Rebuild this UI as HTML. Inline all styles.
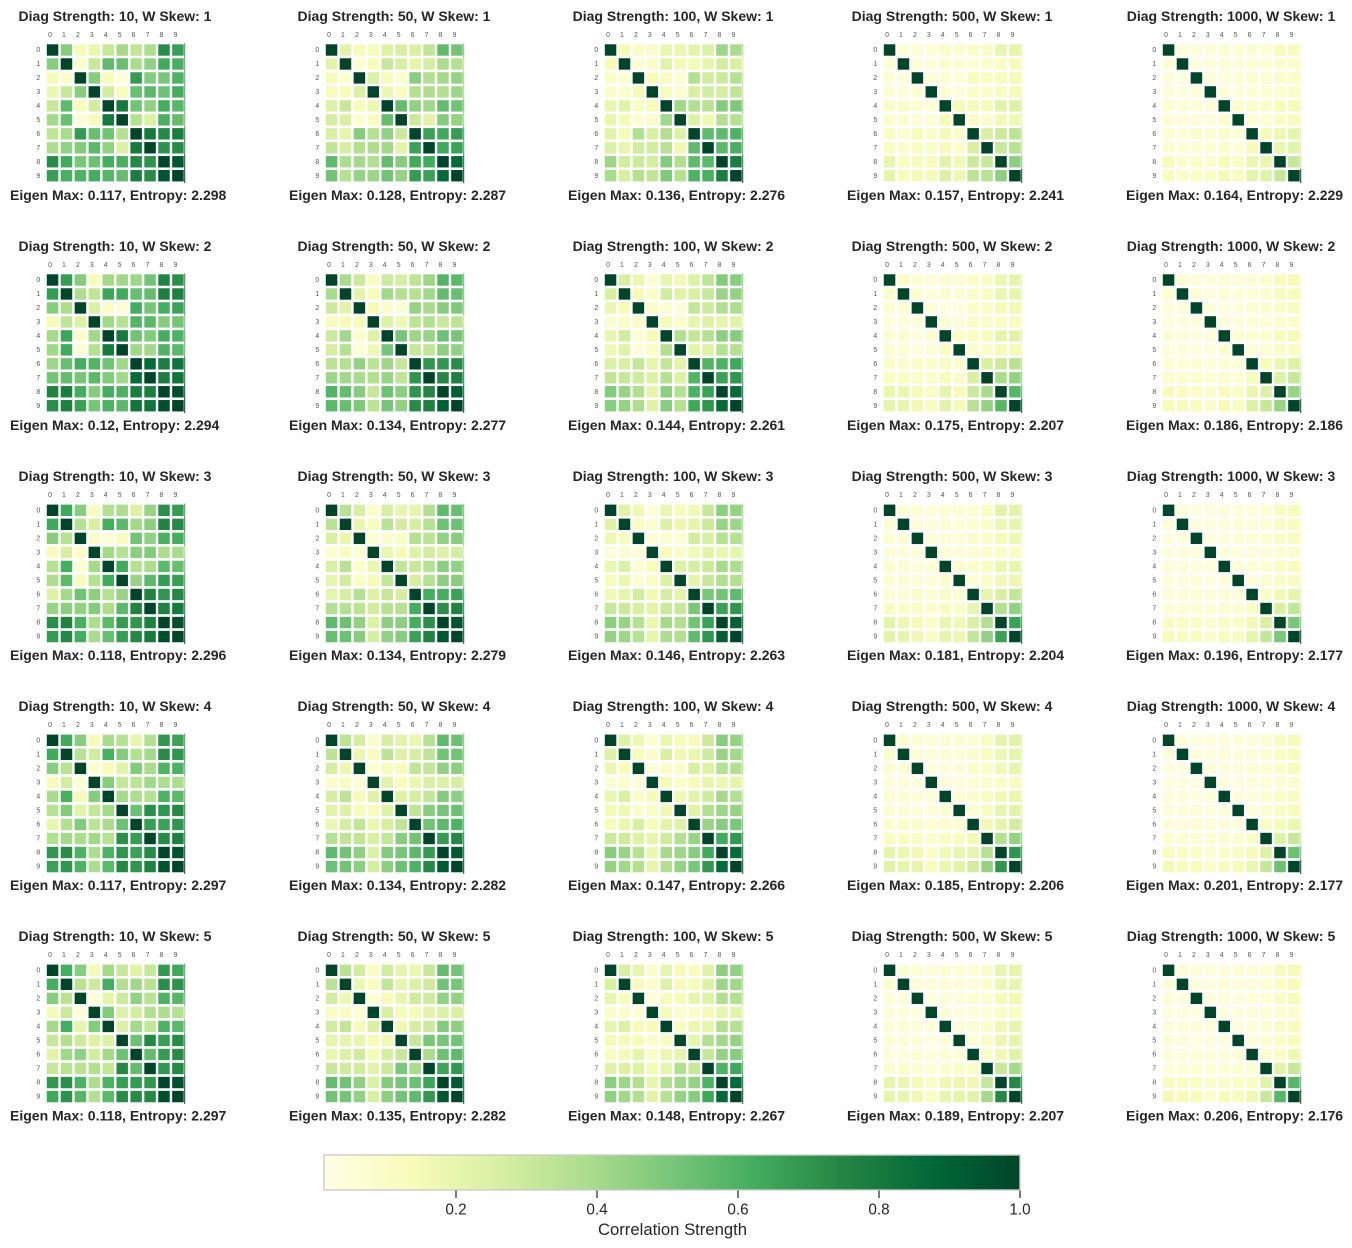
<!DOCTYPE html>
<html lang="en">
<head>
<meta charset="utf-8">
<title>Correlation Strength Heatmap Grid</title>
<style>
html,body{margin:0;padding:0;background:#fff;}
svg{display:block;}
text{font-family:"Liberation Sans",Arial,sans-serif;fill:#262626;}
.t{font-weight:bold;font-size:14px;text-anchor:middle;}
.c{font-weight:bold;font-size:14px;text-anchor:start;}
</style>
</head>
<body>
<svg id="chart" xmlns="http://www.w3.org/2000/svg" width="1352" height="1248" viewBox="0 0 1352 1248">
<rect x="0" y="0" width="1352" height="1248" fill="#ffffff"/>

<g>
<text class="t" x="115" y="21">Diag Strength: 10, W Skew: 1</text>
<text class="t" x="394" y="21">Diag Strength: 50, W Skew: 1</text>
<text class="t" x="673" y="21">Diag Strength: 100, W Skew: 1</text>
<text class="t" x="952" y="21">Diag Strength: 500, W Skew: 1</text>
<text class="t" x="1231" y="21">Diag Strength: 1000, W Skew: 1</text>
<text class="t" x="115" y="251">Diag Strength: 10, W Skew: 2</text>
<text class="t" x="394" y="251">Diag Strength: 50, W Skew: 2</text>
<text class="t" x="673" y="251">Diag Strength: 100, W Skew: 2</text>
<text class="t" x="952" y="251">Diag Strength: 500, W Skew: 2</text>
<text class="t" x="1231" y="251">Diag Strength: 1000, W Skew: 2</text>
<text class="t" x="115" y="481">Diag Strength: 10, W Skew: 3</text>
<text class="t" x="394" y="481">Diag Strength: 50, W Skew: 3</text>
<text class="t" x="673" y="481">Diag Strength: 100, W Skew: 3</text>
<text class="t" x="952" y="481">Diag Strength: 500, W Skew: 3</text>
<text class="t" x="1231" y="481">Diag Strength: 1000, W Skew: 3</text>
<text class="t" x="115" y="711">Diag Strength: 10, W Skew: 4</text>
<text class="t" x="394" y="711">Diag Strength: 50, W Skew: 4</text>
<text class="t" x="673" y="711">Diag Strength: 100, W Skew: 4</text>
<text class="t" x="952" y="711">Diag Strength: 500, W Skew: 4</text>
<text class="t" x="1231" y="711">Diag Strength: 1000, W Skew: 4</text>
<text class="t" x="115" y="941">Diag Strength: 10, W Skew: 5</text>
<text class="t" x="394" y="941">Diag Strength: 50, W Skew: 5</text>
<text class="t" x="673" y="941">Diag Strength: 100, W Skew: 5</text>
<text class="t" x="952" y="941">Diag Strength: 500, W Skew: 5</text>
<text class="t" x="1231" y="941">Diag Strength: 1000, W Skew: 5</text>
</g>

<g>
<text class="c" x="10" y="200">Eigen Max: 0.117, Entropy: 2.298</text>
<text class="c" x="289" y="200">Eigen Max: 0.128, Entropy: 2.287</text>
<text class="c" x="568" y="200">Eigen Max: 0.136, Entropy: 2.276</text>
<text class="c" x="847" y="200">Eigen Max: 0.157, Entropy: 2.241</text>
<text class="c" x="1126" y="200">Eigen Max: 0.164, Entropy: 2.229</text>
<text class="c" x="10" y="430">Eigen Max: 0.12, Entropy: 2.294</text>
<text class="c" x="289" y="430">Eigen Max: 0.134, Entropy: 2.277</text>
<text class="c" x="568" y="430">Eigen Max: 0.144, Entropy: 2.261</text>
<text class="c" x="847" y="430">Eigen Max: 0.175, Entropy: 2.207</text>
<text class="c" x="1126" y="430">Eigen Max: 0.186, Entropy: 2.186</text>
<text class="c" x="10" y="660">Eigen Max: 0.118, Entropy: 2.296</text>
<text class="c" x="289" y="660">Eigen Max: 0.134, Entropy: 2.279</text>
<text class="c" x="568" y="660">Eigen Max: 0.146, Entropy: 2.263</text>
<text class="c" x="847" y="660">Eigen Max: 0.181, Entropy: 2.204</text>
<text class="c" x="1126" y="660">Eigen Max: 0.196, Entropy: 2.177</text>
<text class="c" x="10" y="890">Eigen Max: 0.117, Entropy: 2.297</text>
<text class="c" x="289" y="890">Eigen Max: 0.134, Entropy: 2.282</text>
<text class="c" x="568" y="890">Eigen Max: 0.147, Entropy: 2.266</text>
<text class="c" x="847" y="890">Eigen Max: 0.185, Entropy: 2.206</text>
<text class="c" x="1126" y="890">Eigen Max: 0.201, Entropy: 2.177</text>
<text class="c" x="10" y="1120.5">Eigen Max: 0.118, Entropy: 2.297</text>
<text class="c" x="289" y="1120.5">Eigen Max: 0.135, Entropy: 2.282</text>
<text class="c" x="568" y="1120.5">Eigen Max: 0.148, Entropy: 2.267</text>
<text class="c" x="847" y="1120.5">Eigen Max: 0.189, Entropy: 2.207</text>
<text class="c" x="1126" y="1120.5">Eigen Max: 0.206, Entropy: 2.176</text>
</g>

<g id="panels"></g>

<defs>
<linearGradient id="ylgn" x1="0" x2="1" y1="0" y2="0"></linearGradient>
</defs>
<g id="colorbar">
<rect x="324" y="1155" width="696" height="35" fill="url(#ylgn)" stroke="#cccccc" stroke-width="1.4"/>
<text x="672.5" y="1235" font-size="16.67" text-anchor="middle">Correlation Strength</text>
</g>
</svg>

<script>
// Upper triangles of each correlation matrix (row i lists columns i..9).
const d10_s1 = [[1,.47,.14,.19,.31,.40,.33,.38,.73,.67],[1,.08,.31,.56,.54,.39,.45,.63,.61],[1,.47,.13,.05,.68,.48,.50,.60],[1,.28,.13,.54,.57,.53,.62],[1,.80,.52,.45,.62,.58],[1,.36,.25,.61,.55],[1,.80,.74,.78],[1,.71,.73],[1,.94],[1]];
const d50_s1 = [[1,.22,.14,.13,.24,.27,.26,.33,.56,.52],[1,.07,.13,.31,.26,.21,.27,.38,.36],[1,.25,.13,.07,.47,.37,.40,.44],[1,.18,.12,.36,.38,.37,.42],[1,.55,.45,.41,.55,.52],[1,.30,.22,.47,.44],[1,.66,.63,.68],[1,.63,.66],[1,.86],[1]];
const d100_s1 = [[1,.14,.10,.09,.19,.19,.22,.25,.42,.39],[1,.07,.09,.23,.15,.15,.20,.28,.26],[1,.14,.11,.07,.37,.28,.30,.36],[1,.13,.08,.26,.28,.27,.33],[1,.41,.37,.35,.48,.49],[1,.24,.17,.37,.36],[1,.56,.56,.60],[1,.57,.61],[1,.78],[1]];
const d500_s1 = [[1,.06,.06,.06,.10,.08,.10,.11,.20,.21],[1,.05,.05,.09,.07,.07,.09,.12,.13],[1,.06,.07,.05,.13,.11,.13,.15],[1,.06,.05,.10,.10,.12,.15],[1,.15,.15,.14,.23,.25],[1,.09,.08,.16,.17],[1,.26,.30,.34],[1,.31,.35],[1,.46],[1]];
const d1000_s1 = [[1,.05,.05,.05,.07,.06,.07,.07,.13,.12],[1,.04,.04,.06,.05,.06,.06,.08,.09],[1,.05,.05,.05,.08,.07,.09,.10],[1,.05,.04,.07,.07,.08,.10],[1,.08,.09,.09,.14,.15],[1,.06,.06,.11,.12],[1,.14,.18,.21],[1,.19,.23],[1,.31],[1]];
const d10_s2 = [[1,.68,.47,.14,.40,.41,.42,.52,.76,.72],[1,.38,.33,.65,.63,.54,.55,.78,.77],[1,.25,.09,.05,.62,.51,.62,.66],[1,.41,.36,.59,.57,.47,.51],[1,.80,.52,.48,.62,.60],[1,.41,.41,.60,.57],[1,.86,.78,.82],[1,.78,.82],[1,.97],[1]];
const d50_s2 = [[1,.39,.30,.12,.30,.27,.34,.42,.59,.57],[1,.22,.14,.41,.36,.36,.41,.55,.54],[1,.14,.08,.06,.44,.39,.47,.49],[1,.24,.17,.34,.37,.31,.34],[1,.51,.42,.43,.53,.51],[1,.31,.33,.46,.45],[1,.70,.70,.73],[1,.75,.77],[1,.91],[1]];
const d100_s2 = [[1,.26,.18,.07,.20,.17,.25,.33,.48,.47],[1,.14,.10,.28,.23,.26,.31,.43,.44],[1,.09,.07,.05,.32,.29,.37,.38],[1,.14,.10,.21,.24,.21,.23],[1,.37,.32,.36,.46,.47],[1,.22,.24,.36,.36],[1,.59,.60,.64],[1,.66,.70],[1,.86],[1]];
const d500_s2 = [[1,.09,.07,.05,.07,.07,.09,.11,.19,.21],[1,.07,.05,.08,.07,.09,.11,.19,.20],[1,.05,.04,.04,.10,.10,.14,.16],[1,.07,.05,.09,.09,.11,.12],[1,.11,.11,.13,.21,.22],[1,.08,.09,.14,.15],[1,.26,.30,.35],[1,.39,.44],[1,.58],[1]];
const d1000_s2 = [[1,.07,.05,.04,.06,.05,.07,.08,.13,.14],[1,.05,.04,.06,.05,.06,.08,.12,.13],[1,.05,.04,.04,.07,.08,.10,.12],[1,.05,.04,.06,.06,.08,.08],[1,.07,.07,.08,.13,.14],[1,.06,.06,.10,.11],[1,.13,.19,.24],[1,.25,.31],[1,.43],[1]];
const d10_s3 = [[1,.64,.47,.12,.36,.38,.24,.43,.72,.68],[1,.36,.26,.62,.57,.40,.46,.76,.74],[1,.09,.06,.12,.52,.45,.61,.62],[1,.40,.36,.46,.48,.38,.39],[1,.63,.36,.38,.57,.54],[1,.43,.57,.68,.67],[1,.76,.70,.74],[1,.77,.80],[1,.96],[1]];
const d50_s3 = [[1,.35,.26,.08,.26,.20,.21,.37,.56,.54],[1,.19,.12,.35,.28,.27,.36,.53,.53],[1,.07,.08,.10,.36,.34,.45,.47],[1,.19,.14,.24,.28,.24,.27],[1,.32,.31,.36,.46,.45],[1,.27,.36,.46,.47],[1,.62,.62,.66],[1,.72,.76],[1,.94],[1]];
const d100_s3 = [[1,.23,.17,.05,.19,.13,.16,.31,.46,.44],[1,.12,.07,.25,.18,.21,.30,.43,.42],[1,.05,.07,.07,.28,.26,.36,.36],[1,.13,.09,.16,.22,.19,.21],[1,.25,.27,.30,.40,.38],[1,.21,.31,.37,.37],[1,.50,.52,.56],[1,.66,.70],[1,.90],[1]];
const d500_s3 = [[1,.07,.06,.05,.07,.06,.07,.11,.22,.22],[1,.05,.05,.07,.06,.07,.10,.18,.20],[1,.05,.05,.05,.09,.09,.15,.17],[1,.06,.05,.07,.08,.10,.11],[1,.08,.09,.12,.19,.20],[1,.07,.10,.17,.18],[1,.20,.26,.32],[1,.37,.45],[1,.66],[1]];
const d1000_s3 = [[1,.05,.04,.04,.05,.05,.05,.06,.12,.13],[1,.04,.04,.05,.05,.05,.06,.11,.12],[1,.04,.04,.05,.06,.07,.10,.12],[1,.04,.04,.05,.06,.07,.08],[1,.05,.06,.07,.11,.13],[1,.05,.07,.10,.12],[1,.10,.16,.21],[1,.26,.32],[1,.50],[1]];
const d10_s4 = [[1,.63,.47,.14,.39,.36,.20,.37,.70,.66],[1,.35,.28,.61,.48,.36,.40,.73,.70],[1,.07,.14,.23,.48,.39,.60,.60],[1,.47,.32,.34,.41,.38,.38],[1,.40,.38,.36,.60,.57],[1,.53,.72,.70,.74],[1,.67,.66,.70],[1,.73,.77],[1,.95],[1]];
const d50_s4 = [[1,.34,.27,.09,.27,.22,.19,.36,.56,.53],[1,.18,.12,.34,.24,.27,.33,.52,.52],[1,.07,.13,.13,.33,.32,.45,.46],[1,.23,.13,.19,.26,.25,.27],[1,.24,.27,.32,.48,.46],[1,.33,.47,.51,.53],[1,.52,.57,.60],[1,.68,.74],[1,.93],[1]];
const d100_s4 = [[1,.24,.18,.07,.19,.15,.14,.30,.47,.44],[1,.13,.08,.26,.17,.19,.29,.43,.41],[1,.05,.09,.09,.26,.24,.36,.37],[1,.15,.10,.13,.20,.18,.21],[1,.17,.22,.29,.40,.37],[1,.23,.37,.42,.44],[1,.43,.47,.50],[1,.63,.69],[1,.86],[1]];
const d500_s4 = [[1,.08,.07,.05,.07,.07,.07,.11,.21,.23],[1,.06,.05,.07,.06,.08,.11,.18,.21],[1,.04,.05,.05,.10,.10,.16,.20],[1,.05,.05,.07,.08,.10,.12],[1,.07,.08,.11,.16,.19],[1,.07,.12,.20,.22],[1,.16,.21,.28],[1,.36,.44],[1,.70],[1]];
const d1000_s4 = [[1,.05,.04,.04,.05,.05,.05,.07,.12,.15],[1,.04,.04,.05,.05,.05,.07,.11,.13],[1,.04,.04,.05,.07,.07,.10,.13],[1,.05,.04,.05,.06,.07,.08],[1,.05,.05,.07,.10,.12],[1,.05,.07,.11,.13],[1,.10,.14,.19],[1,.24,.31],[1,.53],[1]];
const d10_s5 = [[1,.62,.47,.15,.40,.31,.23,.31,.69,.64],[1,.35,.30,.62,.37,.41,.35,.72,.71],[1,.05,.21,.30,.45,.35,.60,.58],[1,.48,.24,.28,.37,.38,.36],[1,.25,.40,.32,.60,.57],[1,.53,.74,.67,.73],[1,.55,.68,.73],[1,.69,.74],[1,.96],[1]];
const d50_s5 = [[1,.35,.28,.11,.28,.21,.19,.31,.55,.52],[1,.18,.12,.32,.21,.25,.29,.52,.51],[1,.07,.14,.20,.29,.29,.45,.45],[1,.26,.14,.15,.22,.25,.26],[1,.17,.27,.30,.48,.46],[1,.31,.50,.51,.52],[1,.39,.53,.56],[1,.65,.69],[1,.93],[1]];
const d100_s5 = [[1,.26,.20,.08,.20,.14,.12,.23,.46,.45],[1,.13,.09,.24,.14,.15,.24,.42,.41],[1,.05,.13,.14,.21,.24,.37,.37],[1,.14,.08,.09,.15,.20,.22],[1,.11,.18,.21,.37,.36],[1,.20,.37,.41,.44],[1,.31,.44,.47],[1,.60,.64],[1,.87],[1]];
const d500_s5 = [[1,.07,.06,.05,.06,.06,.05,.08,.20,.21],[1,.05,.05,.06,.05,.05,.08,.18,.20],[1,.04,.05,.05,.07,.07,.15,.17],[1,.05,.04,.05,.06,.10,.11],[1,.05,.07,.08,.17,.20],[1,.06,.10,.18,.21],[1,.10,.17,.23],[1,.31,.40],[1,.74],[1]];
const d1000_s5 = [[1,.05,.05,.04,.05,.05,.05,.06,.12,.15],[1,.04,.04,.05,.05,.05,.06,.11,.14],[1,.04,.05,.04,.06,.06,.10,.13],[1,.04,.04,.05,.06,.08,.08],[1,.04,.05,.07,.10,.13],[1,.05,.07,.10,.13],[1,.07,.11,.17],[1,.23,.31],[1,.58],[1]];

const diagStrengths = [10, 50, 100, 500, 1000];
const wSkews = [1, 2, 3, 4, 5];
const matrixLabels = ["0", "1", "2", "3", "4", "5", "6", "7", "8", "9"];
const colorbarTicks = [0.2, 0.4, 0.6, 0.8, 1.0];
const colorMin = 0.0128;
const colorMax = 1;
const ylgnColors = ["#ffffe5", "#f7fcb9", "#d9f0a3", "#addd8e", "#78c679", "#41ab5d", "#238443", "#006837", "#004529"];

const panelGrid = [
  [d10_s1, d50_s1, d100_s1, d500_s1, d1000_s1],
  [d10_s2, d50_s2, d100_s2, d500_s2, d1000_s2],
  [d10_s3, d50_s3, d100_s3, d500_s3, d1000_s3],
  [d10_s4, d50_s4, d100_s4, d500_s4, d1000_s4],
  [d10_s5, d50_s5, d100_s5, d500_s5, d1000_s5]
];

const SVG_NS = "http://www.w3.org/2000/svg";
const CELL_W = 11.5;
const CELL_H = 11.4;

function hexToRgb(hex) {
  return [1, 3, 5].map(function (i) { return parseInt(hex.slice(i, i + 2), 16); });
}
function colorScale(value) {
  const t = Math.max(0, Math.min(1, (value - colorMin) / (colorMax - colorMin)));
  const p = t * (ylgnColors.length - 1);
  const i = Math.min(Math.floor(p), ylgnColors.length - 2);
  const a = hexToRgb(ylgnColors[i]);
  const b = hexToRgb(ylgnColors[i + 1]);
  const f = p - i;
  return "rgb(" + a.map(function (c, k) { return Math.round(c + (b[k] - c) * f); }).join(",") + ")";
}
function panelX(col) { return 46.8 + 279 * col; }
function panelY(row) { return row < 2 ? 44.3 + 230 * row : 44.6 + 230 * row; }
function pitchY(row) { return row < 2 ? 13.97 : 14.03; }
function cellX(col, j) { return panelX(col) + 13.93 * j; }
function cellY(row, i) { return panelY(row) + pitchY(row) * i; }
function colorbarX(value) { return 1020 - (colorMax - value) * 705; }
function matrixValue(tri, i, j) { return i <= j ? tri[i][j - i] : tri[j][i - j]; }
function svgEl(tag, attrs) {
  const el = document.createElementNS(SVG_NS, tag);
  Object.keys(attrs).forEach(function (k) { el.setAttribute(k, attrs[k]); });
  return el;
}

const panelsRoot = document.getElementById("panels");
panelGrid.forEach(function (rowPanels, row) {
  rowPanels.forEach(function (tri, col) {
    const g = svgEl("g", {});
    
    
    panelsRoot.appendChild(g);

    matrixLabels.forEach(function (label, k) {
      const xt = svgEl("text", { x: cellX(col, k) + 3.2, y: panelY(row) - 7.5, "font-size": 6.9, "text-anchor": "middle", style: "fill:#555555" });
      xt.textContent = label;
      
      
      g.appendChild(xt);

      const yt = svgEl("text", { x: panelX(col) - 8.5, y: cellY(row, k) + 7.8, "font-size": 6.9, "text-anchor": "middle", style: "fill:#555555" });
      yt.textContent = label;
      
      
      g.appendChild(yt);
    });

    for (let i = 0; i < matrixLabels.length; i++) {
      for (let j = 0; j < matrixLabels.length; j++) {
        const cell = svgEl("rect", { x: cellX(col, j), y: cellY(row, i), width: CELL_W, height: CELL_H, fill: colorScale(matrixValue(tri, i, j)) });
        
        
        g.appendChild(cell);
      }
      const edge = svgEl("rect", {
        x: panelX(col) + 137.4,
        y: cellY(row, i) - 1,
        width: 1,
        height: pitchY(row),
        fill: colorScale(matrixValue(tri, i, matrixLabels.length - 1))
      });
      
      
      g.appendChild(edge);
    }
  });
});

const gradient = document.getElementById("ylgn");
ylgnColors.forEach(function (color, i) {
  const stop = svgEl("stop", { offset: (i / (ylgnColors.length - 1) * 100) + "%", "stop-color": color });
  gradient.appendChild(stop);
});

const colorbarGroup = document.getElementById("colorbar");
colorbarTicks.forEach(function (tick) {
  const x = colorbarX(tick);
  const mark = svgEl("line", { x1: x, x2: x, y1: 1190.5, y2: 1198, stroke: "#333333", "stroke-width": 1.3 });
  
  
  colorbarGroup.appendChild(mark);

  const label = svgEl("text", { x: x, y: 1214.5, "font-size": 15.3, "text-anchor": "middle" });
  label.textContent = tick.toFixed(1);
  
  
  colorbarGroup.appendChild(label);
});
</script>
</body>
</html>
